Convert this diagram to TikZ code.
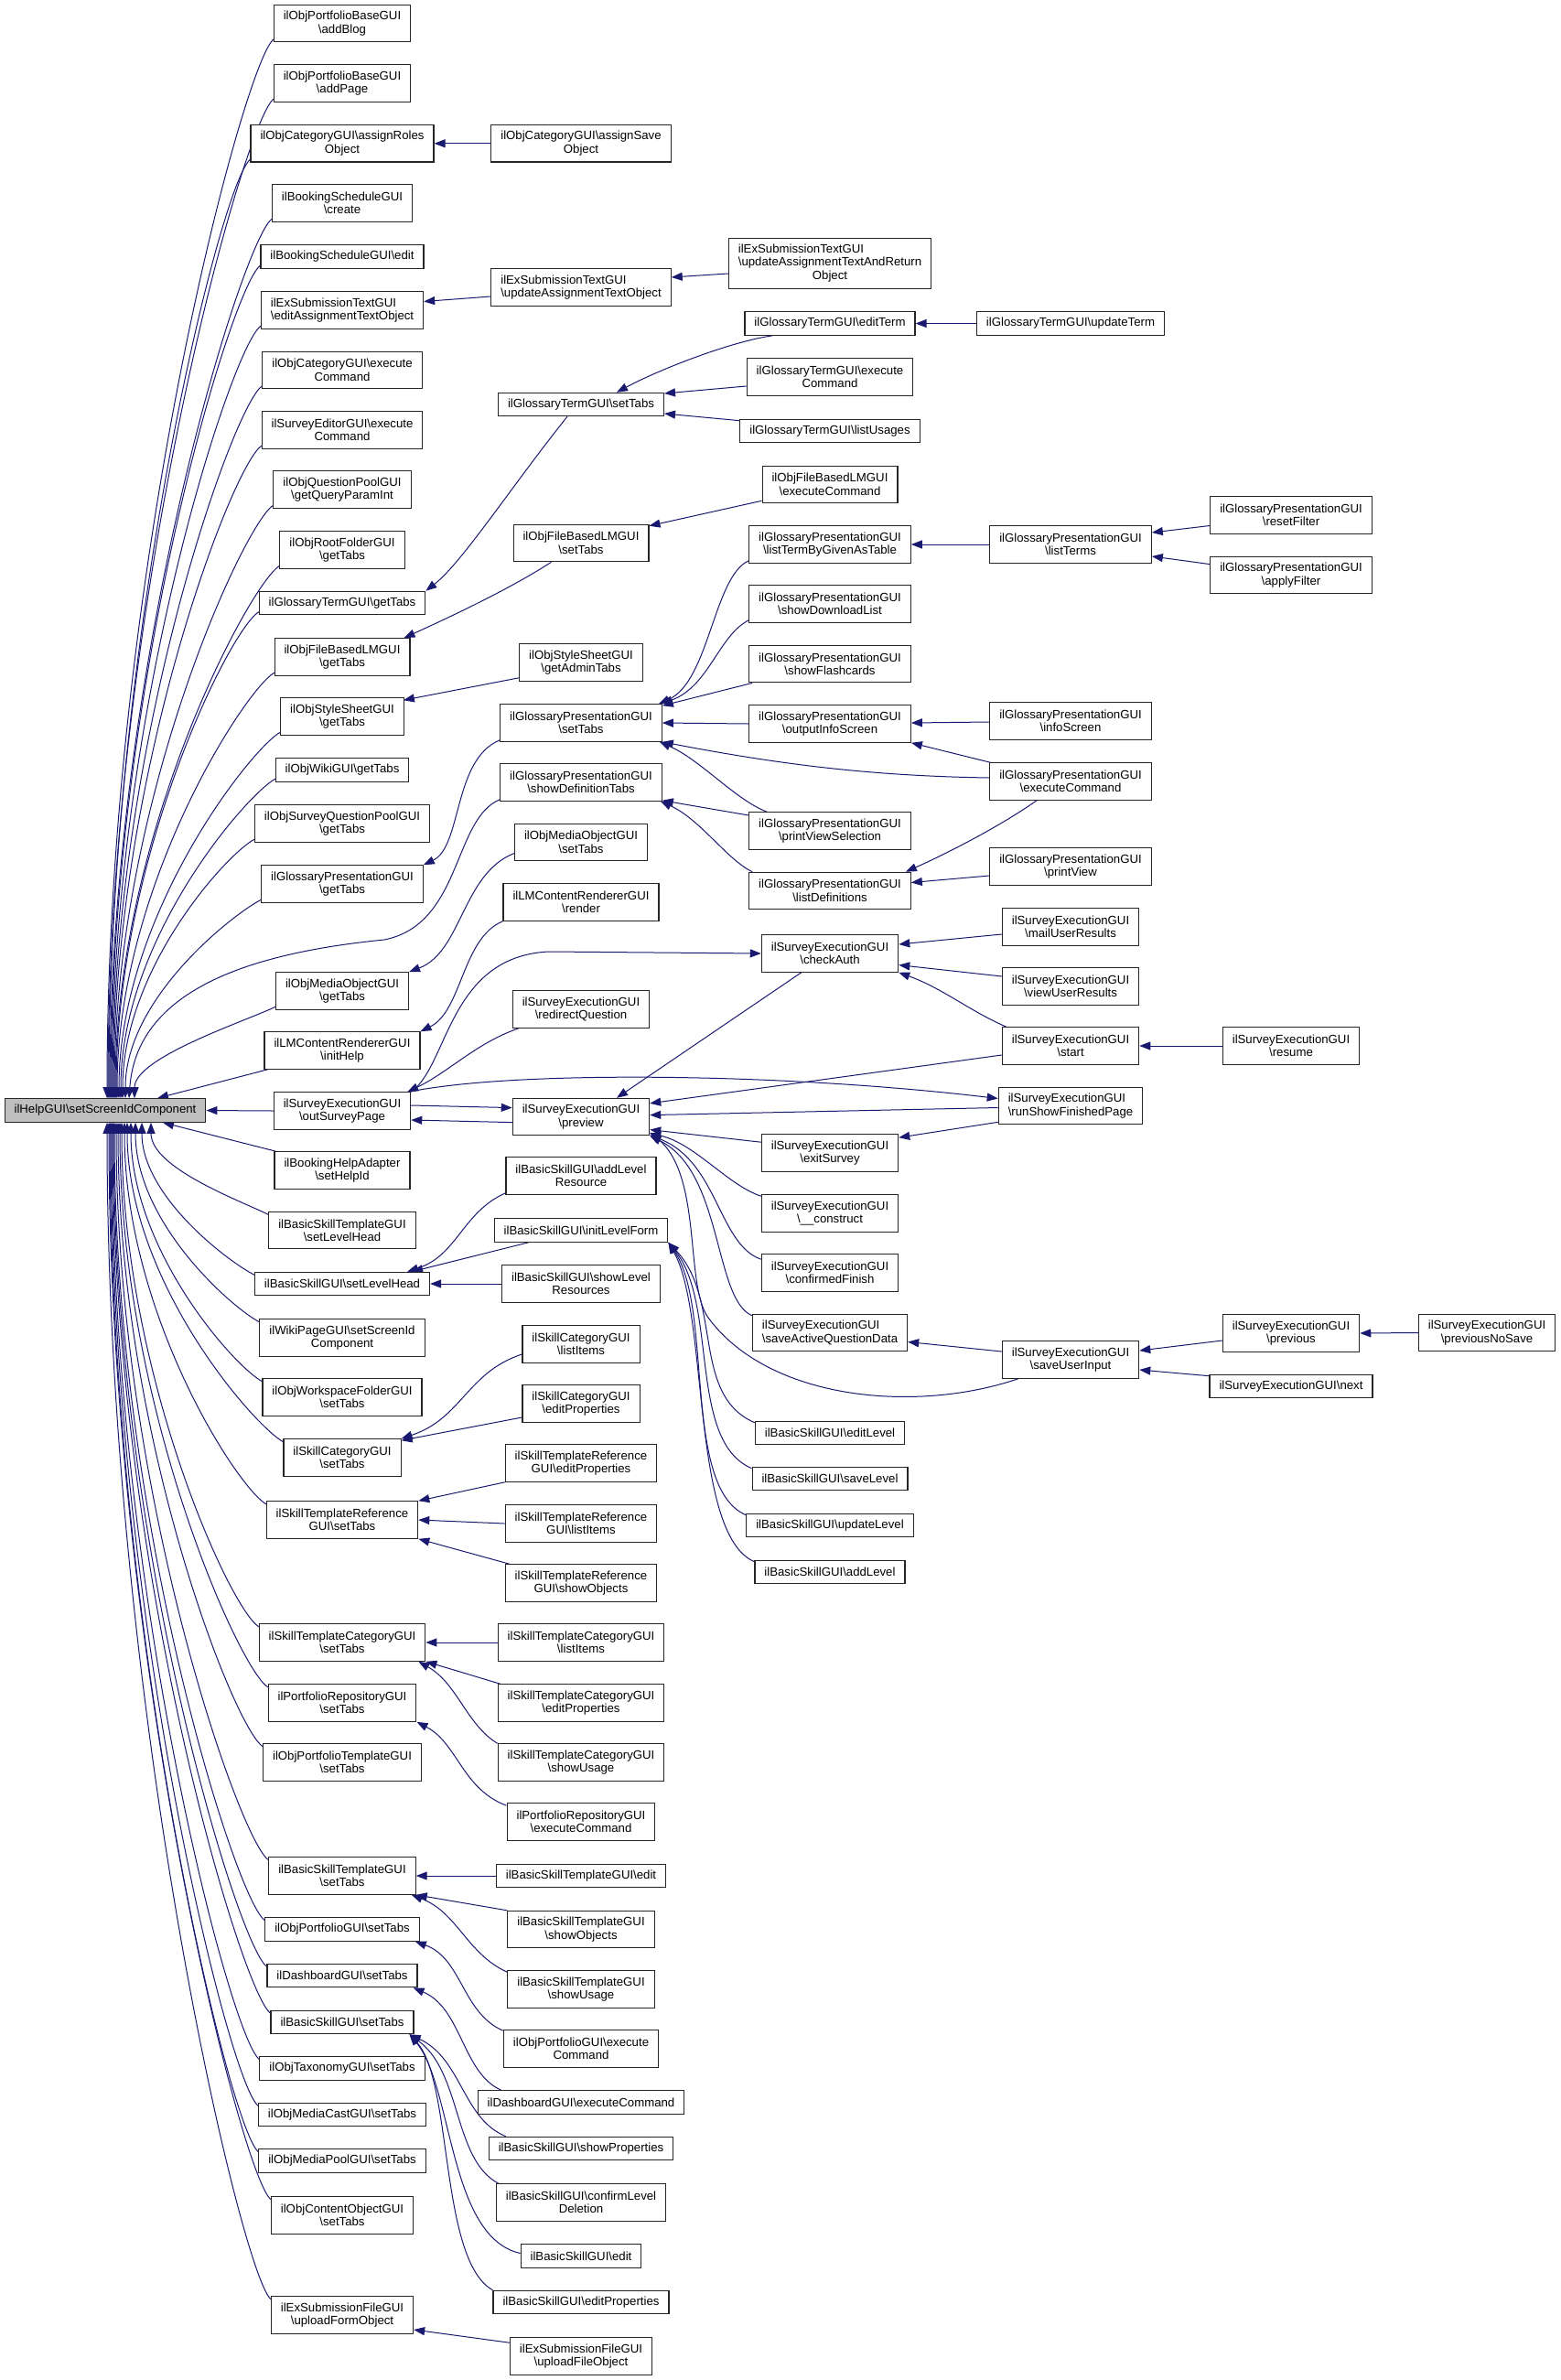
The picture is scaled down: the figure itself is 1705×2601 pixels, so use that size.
\documentclass[tikz,border=0pt]{standalone}
\usepackage{fontspec}
\setmainfont{Liberation Sans}
\usetikzlibrary{arrows.meta,calc}
\definecolor{mblue}{HTML}{191970}
\newcommand{\bsl}{\textbackslash}
\pgfdeclarelayer{bg}
\pgfsetlayers{bg,main}
\tikzset{
  nbase/.style={draw=black!85, line width=1.1pt, fill=white, font=\fontsize{13.2}{14.5}\selectfont, inner xsep=10.5pt, inner ysep=0pt},
  nbox/.style={nbase, align=center},
  b1/.style={nbox, minimum height=25.5pt},
  b2/.style={nbox, minimum height=40.5pt},
  lb/.style={align=left},
  conn/.style={draw=mblue, line width=1pt, -{Triangle[length=12pt,width=9pt]}},
}
\newcommand{\myUp}[3]{\draw[conn] ($(#1.south west)+(1,-4)$) .. controls +(-30,15) and +(0,-#3) .. ([xshift=#2pt]root.north);}
\newcommand{\myDn}[3]{\draw[conn] ($(#1.north west)+(1,4)$) .. controls +(-30,-15) and +(0,#3) .. ([xshift=#2pt]root.south);}
\begin{document}
\begin{tikzpicture}[x=1pt,y=-1pt]
\useasboundingbox (0,0) rectangle (1705,2601);
% root
\node[b1, fill=gray!50] (root) at (115,1213.5) {ilHelpGUI\bsl setScreenIdComponent};
% column 2
\node[b2] (a1) at (374,25.7) {ilObjPortfolioBaseGUI\\\bsl addBlog};
\node[b2] (a2) at (374,91) {ilObjPortfolioBaseGUI\\\bsl addPage};
\node[b2] (a3) at (374,156.8) {ilObjCategoryGUI\bsl assignRoles\\Object};
\node[b2] (a4) at (374,222) {ilBookingScheduleGUI\\\bsl create};
\node[b1] (a5) at (374,280.3) {ilBookingScheduleGUI\bsl edit};
\node[b2,lb] (a6) at (374,339) {ilExSubmissionTextGUI\\\bsl editAssignmentTextObject};
\node[b2] (a7) at (374,404.5) {ilObjCategoryGUI\bsl execute\\Command};
\node[b2] (a8) at (374,470) {ilSurveyEditorGUI\bsl execute\\Command};
\node[b2] (a9) at (374,535) {ilObjQuestionPoolGUI\\\bsl getQueryParamInt};
\node[b2] (a10) at (374,601) {ilObjRootFolderGUI\\\bsl getTabs};
\node[b1] (a11) at (374,659) {ilGlossaryTermGUI\bsl getTabs};
\node[b2] (a12) at (374,718) {ilObjFileBasedLMGUI\\\bsl getTabs};
\node[b2] (a13) at (374,783) {ilObjStyleSheetGUI\\\bsl getTabs};
\node[b1] (a14) at (374,841.5) {ilObjWikiGUI\bsl getTabs};
\node[b2] (a15) at (374,900) {ilObjSurveyQuestionPoolGUI\\\bsl getTabs};
\node[b2] (a16) at (374,966) {ilGlossaryPresentationGUI\\\bsl getTabs};
\node[b2] (a17) at (374,1083) {ilObjMediaObjectGUI\\\bsl getTabs};
\node[b2] (a18) at (374,1148) {ilLMContentRendererGUI\\\bsl initHelp};
\node[b2] (a19) at (374,1214) {ilSurveyExecutionGUI\\\bsl outSurveyPage};
\node[b2] (a20) at (374,1279) {ilBookingHelpAdapter\\\bsl setHelpId};
\node[b2] (a21) at (374,1344.6) {ilBasicSkillTemplateGUI\\\bsl setLevelHead};
\node[b1] (a22) at (374,1403) {ilBasicSkillGUI\bsl setLevelHead};
\node[b2] (a23) at (374,1462) {ilWikiPageGUI\bsl setScreenId\\Component};
\node[b2] (a24) at (374,1527) {ilObjWorkspaceFolderGUI\\\bsl setTabs};
\node[b2] (a25) at (374,1593) {ilSkillCategoryGUI\\\bsl setTabs};
\node[b2] (a26) at (374,1661) {ilSkillTemplateReference\\GUI\bsl setTabs};
\node[b2] (a27) at (374,1795) {ilSkillTemplateCategoryGUI\\\bsl setTabs};
\node[b2] (a28) at (374,1861) {ilPortfolioRepositoryGUI\\\bsl setTabs};
\node[b2] (a29) at (374,1926) {ilObjPortfolioTemplateGUI\\\bsl setTabs};
\node[b2] (a30) at (374,2050) {ilBasicSkillTemplateGUI\\\bsl setTabs};
\node[b1] (a31) at (374,2108.5) {ilObjPortfolioGUI\bsl setTabs};
\node[b1] (a32) at (374,2159) {ilDashboardGUI\bsl setTabs};
\node[b1] (a33) at (374,2210) {ilBasicSkillGUI\bsl setTabs};
\node[b1] (a34) at (374,2260.5) {ilObjTaxonomyGUI\bsl setTabs};
\node[b1] (a35) at (374,2311) {ilObjMediaCastGUI\bsl setTabs};
\node[b1] (a36) at (374,2361.5) {ilObjMediaPoolGUI\bsl setTabs};
\node[b2] (a37) at (374,2421) {ilObjContentObjectGUI\\\bsl setTabs};
\node[b2] (a38) at (374,2530) {ilExSubmissionFileGUI\\\bsl uploadFormObject};
% column 3
\node[b2] (asv) at (635,156.8) {ilObjCategoryGUI\bsl assignSave\\Object};
\node[b2,lb] (uato) at (635,314) {ilExSubmissionTextGUI\\\bsl updateAssignmentTextObject};
\node[b1] (gts) at (635,442) {ilGlossaryTermGUI\bsl setTabs};
\node[b2] (fbs) at (635,593.5) {ilObjFileBasedLMGUI\\\bsl setTabs};
\node[b2] (sat) at (635,724) {ilObjStyleSheetGUI\\\bsl getAdminTabs};
\node[b2] (gps) at (635,790) {ilGlossaryPresentationGUI\\\bsl setTabs};
\node[b2] (sdt) at (635,855) {ilGlossaryPresentationGUI\\\bsl showDefinitionTabs};
\node[b2] (mos) at (635,920.5) {ilObjMediaObjectGUI\\\bsl setTabs};
\node[b2] (rend) at (635,986) {ilLMContentRendererGUI\\\bsl render};
\node[b2] (rq) at (635,1103) {ilSurveyExecutionGUI\\\bsl redirectQuestion};
\node[b2] (prev) at (635,1220.6) {ilSurveyExecutionGUI\\\bsl preview};
\node[b2] (alr) at (635,1285) {ilBasicSkillGUI\bsl addLevel\\Resource};
\node[b1] (ilf) at (635,1344.5) {ilBasicSkillGUI\bsl initLevelForm};
\node[b2] (slr) at (635,1403) {ilBasicSkillGUI\bsl showLevel\\Resources};
\node[b2] (scli) at (635,1469) {ilSkillCategoryGUI\\\bsl listItems};
\node[b2] (scep) at (635,1534) {ilSkillCategoryGUI\\\bsl editProperties};
\node[b2] (strep) at (635,1599) {ilSkillTemplateReference\\GUI\bsl editProperties};
\node[b2] (strli) at (635,1665) {ilSkillTemplateReference\\GUI\bsl listItems};
\node[b2] (strso) at (635,1730) {ilSkillTemplateReference\\GUI\bsl showObjects};
\node[b2] (stcli) at (635,1795) {ilSkillTemplateCategoryGUI\\\bsl listItems};
\node[b2] (stcep) at (635,1861) {ilSkillTemplateCategoryGUI\\\bsl editProperties};
\node[b2] (stcsu) at (635,1926) {ilSkillTemplateCategoryGUI\\\bsl showUsage};
\node[b2] (prec) at (635,1991) {ilPortfolioRepositoryGUI\\\bsl executeCommand};
\node[b1] (bste) at (635,2050) {ilBasicSkillTemplateGUI\bsl edit};
\node[b2] (bstso) at (635,2108.6) {ilBasicSkillTemplateGUI\\\bsl showObjects};
\node[b2] (bstsu) at (635,2174) {ilBasicSkillTemplateGUI\\\bsl showUsage};
\node[b2] (opec) at (635,2239) {ilObjPortfolioGUI\bsl execute\\Command};
\node[b1] (dec) at (635,2297.5) {ilDashboardGUI\bsl executeCommand};
\node[b1] (sp) at (635,2348) {ilBasicSkillGUI\bsl showProperties};
\node[b2] (cld) at (635,2407) {ilBasicSkillGUI\bsl confirmLevel\\Deletion};
\node[b1] (bse) at (635,2465.5) {ilBasicSkillGUI\bsl edit};
\node[b1] (bsep) at (635,2516) {ilBasicSkillGUI\bsl editProperties};
\node[b2] (ufo) at (635,2575) {ilExSubmissionFileGUI\\\bsl uploadFileObject};
% column 4
\node[nbase, minimum height=55pt] (uatro) at (907,288) {\begin{tabular}{@{}l@{}}ilExSubmissionTextGUI\\\bsl updateAssignmentTextAndReturn\\\multicolumn{1}{@{}c@{}}{Object}\end{tabular}};
\node[b1] (et) at (907,353.5) {ilGlossaryTermGUI\bsl editTerm};
\node[b2] (gtec) at (907,412) {ilGlossaryTermGUI\bsl execute\\Command};
\node[b1] (lu) at (907,471) {ilGlossaryTermGUI\bsl listUsages};
\node[b2] (fbe) at (907,529.5) {ilObjFileBasedLMGUI\\\bsl executeCommand};
\node[b2] (ltb) at (907,595) {ilGlossaryPresentationGUI\\\bsl listTermByGivenAsTable};
\node[b2] (sdl) at (907,660) {ilGlossaryPresentationGUI\\\bsl showDownloadList};
\node[b2] (sfc) at (907,725.6) {ilGlossaryPresentationGUI\\\bsl showFlashcards};
\node[b2] (ois) at (907,791) {ilGlossaryPresentationGUI\\\bsl outputInfoScreen};
\node[b2] (pvs) at (907,908) {ilGlossaryPresentationGUI\\\bsl printViewSelection};
\node[b2] (ld) at (907,973.5) {ilGlossaryPresentationGUI\\\bsl listDefinitions};
\node[b2] (ca) at (907,1042) {ilSurveyExecutionGUI\\\bsl checkAuth};
\node[b2] (es) at (907,1260) {ilSurveyExecutionGUI\\\bsl exitSurvey};
\node[b2] (con) at (907,1326) {ilSurveyExecutionGUI\\\bsl\_\_construct};
\node[b2] (cf) at (907,1391) {ilSurveyExecutionGUI\\\bsl confirmedFinish};
\node[b2,lb] (saqd) at (907,1456.5) {ilSurveyExecutionGUI\\\bsl saveActiveQuestionData};
\node[b1] (el) at (907,1566) {ilBasicSkillGUI\bsl editLevel};
\node[b1] (sl) at (907,1616) {ilBasicSkillGUI\bsl saveLevel};
\node[b1] (ul) at (907,1667) {ilBasicSkillGUI\bsl updateLevel};
\node[b1] (al) at (907,1718) {ilBasicSkillGUI\bsl addLevel};
% column 5
\node[b1] (ut) at (1170,353.5) {ilGlossaryTermGUI\bsl updateTerm};
\node[b2] (lt) at (1170,595) {ilGlossaryPresentationGUI\\\bsl listTerms};
\node[b2] (isc) at (1170,788) {ilGlossaryPresentationGUI\\\bsl infoScreen};
\node[b2] (gec) at (1170,854) {ilGlossaryPresentationGUI\\\bsl executeCommand};
\node[b2] (pview) at (1170,947) {ilGlossaryPresentationGUI\\\bsl printView};
\node[b2] (mur) at (1170,1013) {ilSurveyExecutionGUI\\\bsl mailUserResults};
\node[b2] (vur) at (1170,1078) {ilSurveyExecutionGUI\\\bsl viewUserResults};
\node[b2] (st) at (1170,1143) {ilSurveyExecutionGUI\\\bsl start};
\node[b2,lb] (rsfp) at (1170,1208.5) {ilSurveyExecutionGUI\\\bsl runShowFinishedPage};
\node[b2] (sui) at (1170,1486) {ilSurveyExecutionGUI\\\bsl saveUserInput};
% column 6
\node[b2] (rf) at (1411,563) {ilGlossaryPresentationGUI\\\bsl resetFilter};
\node[b2] (af) at (1411,628.6) {ilGlossaryPresentationGUI\\\bsl applyFilter};
\node[b2] (res) at (1411,1143) {ilSurveyExecutionGUI\\\bsl resume};
\node[b2] (prv) at (1411,1457) {ilSurveyExecutionGUI\\\bsl previous};
\node[b1] (nxt) at (1411,1515) {ilSurveyExecutionGUI\bsl next};
% column 7
\node[b2] (pns) at (1625,1456.5) {ilSurveyExecutionGUI\\\bsl previousNoSave};

\begin{pgfonlayer}{bg}
% column 2 -> root
\myUp{a1}{2}{580}
\myUp{a2}{3}{547}
\myUp{a3}{4}{514}
\myUp{a4}{5}{480}
\myUp{a5}{6}{456}
\myUp{a6}{7}{423}
\myUp{a7}{8}{390}
\myUp{a8}{9}{357}
\myUp{a9}{10}{325}
\myUp{a10}{11}{292}
\myUp{a11}{12}{266}
\myUp{a12}{13}{233}
\myUp{a13}{15}{201}
\myUp{a14}{17}{175}
\myUp{a15}{19}{142}
\myUp{a16}{22}{110}
\myUp{a17}{32}{45}
\draw[conn] ($(a18.south west)+(4,0)$) -- ([xshift=57pt]root.north);
\draw[conn] (a19.west) -- (root.east);
\draw[conn] ($(a20.north west)+(2,0)$) -- ([xshift=63pt]root.south);
\myDn{a21}{50}{50}
\myDn{a22}{40}{80}
\myDn{a23}{33}{110}
\myDn{a24}{28}{140}
\myDn{a25}{24}{175}
\myDn{a26}{21}{210}
\myDn{a27}{18}{275}
\myDn{a28}{16}{310}
\myDn{a29}{14}{342}
\myDn{a30}{12}{404}
\myDn{a31}{10}{437}
\myDn{a32}{9}{462}
\myDn{a33}{8}{487}
\myDn{a34}{7}{513}
\myDn{a35}{6}{538}
\myDn{a36}{5}{563}
\myDn{a37}{4}{590}
\myDn{a38}{2}{644}
\draw[conn] ($(sdt.south west)+(0,-2)$) .. controls (495,895) and (505,1010) .. (420,1027) .. controls (290,1040) and (150,1075) .. ([xshift=26pt]root.north);
% top part
\draw[conn] (asv.west) -- (a3.east);
\draw[conn] ($(uato.west)+(0,10)$) -- ($(a6.east)+(0,-9.5)$);
\draw[conn] ($(uatro.west)+(0,11)$) -- ($(uato.east)+(0,-11)$);
\draw[conn] ($(et.south west)+(31,0)$) .. controls (800,373) and (722,403) .. ($(gts.north)+(39,0)$);
\draw[conn] (ut.west) -- (et.east);
\draw[conn] ($(gtec.west)+(0,10)$) -- ($(gts.east)+(0,-12)$);
\draw[conn] ($(lu.north west)+(0,2)$) -- ($(gts.east)+(0,10)$);
\draw[conn] ($(gts.south)+(-15,0)$) .. controls (560,530) and (505,615) .. (a11.north east);
\draw[conn] ($(fbe.south west)+(0,-3)$) -- ($(fbs.north east)+(0,2)$);
\draw[conn] ($(fbs.south west)+(42,0)$) .. controls (555,645) and (490,675) .. ($(a12.north east)+(-7,0)$);
\draw[conn] ($(sat.south west)+(0,-4)$) -- ($(a13.north east)+(-1,3)$);
\draw[conn] (lt.west) -- (ltb.east);
\draw[conn] ($(rf.west)+(0,11.5)$) -- ($(lt.east)+(0,-13)$);
\draw[conn] ($(af.west)+(0,-12)$) -- ($(lt.east)+(0,13)$);
% glossary presentation
\draw[conn] ($(ltb.south west)+(0,-3)$) .. controls (780,630) and (775,745) .. ($(gps.north east)+(-4,0)$);
\draw[conn] ($(sdl.south west)+(0,-3)$) .. controls (785,695) and (775,750) .. ($(gps.north east)+(-1,0)$);
\draw[conn] ($(sfc.south west)+(4,0)$) -- ($(gps.north east)+(0,2)$);
\draw[conn] (ois.west) -- (gps.east);
\draw[conn] ($(gec.west)+(0,-4)$) .. controls (950,848) and (850,835) .. (gps.south east);
\draw[conn] ($(pvs.north west)+(20,0)$) .. controls (805,875) and (765,830) .. ($(gps.south east)+(-3,0)$);
\draw[conn] ($(pvs.west)+(0,-17)$) -- ($(sdt.south east)+(0,-1)$);
\draw[conn] ($(ld.north west)+(4,0)$) .. controls (795,940) and (765,895) .. ($(sdt.south east)+(-2,0)$);
\draw[conn] ($(isc.west)+(0,1)$) -- ($(ois.east)+(0,-1)$);
\draw[conn] ($(gec.north west)+(1,0)$) -- (ois.south east);
\draw[conn] ($(gec.south)+(-37,0)$) .. controls (1090,905) and (1030,935) .. ($(ld.north east)+(-6,0)$);
\draw[conn] ($(pview.west)+(0,10)$) -- ($(ld.east)+(0,-9)$);
\draw[conn] ($(gps.south west)+(0,-2)$) .. controls (495,830) and (505,925) .. (a16.north east);
\draw[conn] ($(mos.west)+(0,12)$) .. controls (505,955) and (505,1040) .. (a17.north east);
\draw[conn] (rend.south west) .. controls (505,1025) and (505,1105) .. (a18.north east);
% survey execution
\draw[conn] ($(mur.west)+(0,8)$) -- ($(ca.east)+(0,-10)$);
\draw[conn] ($(vur.west)+(0,-11)$) -- ($(ca.east)+(0,12.6)$);
\draw[conn] ($(st.north west)+(5,0)$) .. controls (1060,1105) and (1030,1080) .. (ca.south east);
\draw[conn] (res.west) -- (st.east);
\draw[conn] ($(ca.south west)+(44,0)$) -- ($(prev.north)+(39,0)$);
\draw[conn] ($(st.west)+(0,10)$) -- ($(prev.north east)+(0,6)$);
\draw[conn] ($(rsfp.west)+(0,2)$) -- ($(prev.east)+(0,-2)$);
\draw[conn] ($(rsfp.south west)+(0,-3)$) -- ($(es.north east)+(0,4)$);
\draw[conn] ($(es.north west)+(0,9)$) -- ($(prev.east)+(0,14)$);
\draw[conn] ($(a19.east)+(0,-6)$) -- ($(prev.west)+(0,-10)$);
\draw[conn] ($(prev.west)+(0,6)$) -- ($(a19.east)+(0,10)$);
\draw[conn] ($(a19.north east)+(-2,0)$) .. controls (560,1170) and (850,1172) .. ($(rsfp.west)+(0,-8)$);
\draw[conn] (a19.north east) .. controls (490,1165) and (490,1045) .. (600,1040) -- (ca.west);
\draw[conn] ($(rq.south west)+(7,0)$) .. controls (520,1140) and (490,1172) .. ($(a19.north east)+(-4,0)$);
\draw[conn] ($(con.north west)+(0,2)$) .. controls (795,1295) and (760,1250) .. ($(prev.south east)+(0,-3)$);
\draw[conn] ($(cf.north west)+(0,6)$) .. controls (785,1360) and (785,1270) .. ($(prev.south east)+(0,-1)$);
\draw[conn] ($(saqd.north west)+(0,2)$) .. controls (780,1420) and (790,1280) .. (prev.south east);
\draw[conn] ($(sui.south west)+(18,0)$) .. controls (1000,1545) and (840,1530) .. (774,1440) .. controls (748,1404) and (768,1285) .. ($(prev.south east)+(0,-4)$);
\draw[conn] ($(sui.west)+(0,-9)$) -- ($(saqd.east)+(0,10)$);
\draw[conn] ($(prv.west)+(0,8)$) -- ($(sui.east)+(0,-10)$);
\draw[conn] ($(nxt.north west)+(0,2)$) -- ($(sui.east)+(0,11)$);
\draw[conn] (pns.west) -- (prv.east);
% basic skill
\draw[conn] ($(alr.south west)+(0,-2)$) .. controls (505,1325) and (500,1372) .. ($(a22.north east)+(-25,0)$);
\draw[conn] ($(ilf.south west)+(38,0)$) -- ($(a22.north east)+(-20,0)$);
\draw[conn] (slr.west) -- (a22.east);
\draw[conn] ($(el.north west)+(0,2)$) .. controls +(-70,-30) and (790,1420) .. (ilf.south east);
\draw[conn] ($(sl.north west)+(0,2)$) .. controls +(-70,-30) and (785,1425) .. (ilf.south east);
\draw[conn] ($(ul.north west)+(0,2)$) .. controls +(-70,-30) and (780,1430) .. (ilf.south east);
\draw[conn] ($(al.north west)+(0,2)$) .. controls +(-70,-30) and (775,1435) .. (ilf.south east);
% skills
\draw[conn] ($(scli.west)+(0,11)$) .. controls (510,1500) and (505,1550) .. (a25.north east);
\draw[conn] ($(scep.west)+(0,15)$) -- ($(a25.north east)+(0,2)$);
\draw[conn] (strep.south west) -- (a26.north east);
\draw[conn] (strli.west) -- (a26.east);
\draw[conn] ($(strso.north west)+(5,0)$) -- (a26.south east);
\draw[conn] (stcli.west) -- (a27.east);
\draw[conn] ($(stcep.north west)+(3,0)$) -- (a27.south east);
\draw[conn] (stcsu.north west) .. controls (510,1885) and (500,1840) .. ($(a27.south east)+(-8,0)$);
\draw[conn] ($(prec.north west)+(0,3)$) .. controls (505,1955) and (500,1905) .. (a28.south east);
\draw[conn] (bste.west) -- (a30.east);
\draw[conn] (bstso.north west) -- (a30.south east);
\draw[conn] ($(bstsu.north west)+(0,2)$) .. controls (510,2135) and (500,2090) .. ($(a30.south east)+(-5,0)$);
\draw[conn] ($(opec.north west)+(0,1)$) .. controls (505,2200) and (505,2140) .. ($(a31.south east)+(-5,0)$);
\draw[conn] ($(dec.north west)+(26,0)$) .. controls (505,2265) and (505,2195) .. ($(a32.south east)+(-5,0)$);
\draw[conn] ($(sp.north west)+(19,0)$) .. controls (505,2315) and (505,2250) .. ($(a33.south east)+(-5,0)$);
\draw[conn] ($(cld.north west)+(3,0)$) .. controls (495,2360) and (505,2265) .. ($(a33.south east)+(-5,0)$);
\draw[conn] ($(bse.west)+(0,-3)$) .. controls (490,2445) and (495,2280) .. ($(a33.south east)+(-5,0)$);
\draw[conn] (bsep.north west) .. controls (480,2470) and (495,2275) .. ($(a33.south east)+(-5,0)$);
\draw[conn] ($(ufo.north west)+(0,6)$) -- ($(a38.east)+(0,16)$);
\end{pgfonlayer}
\end{tikzpicture}
\end{document}
